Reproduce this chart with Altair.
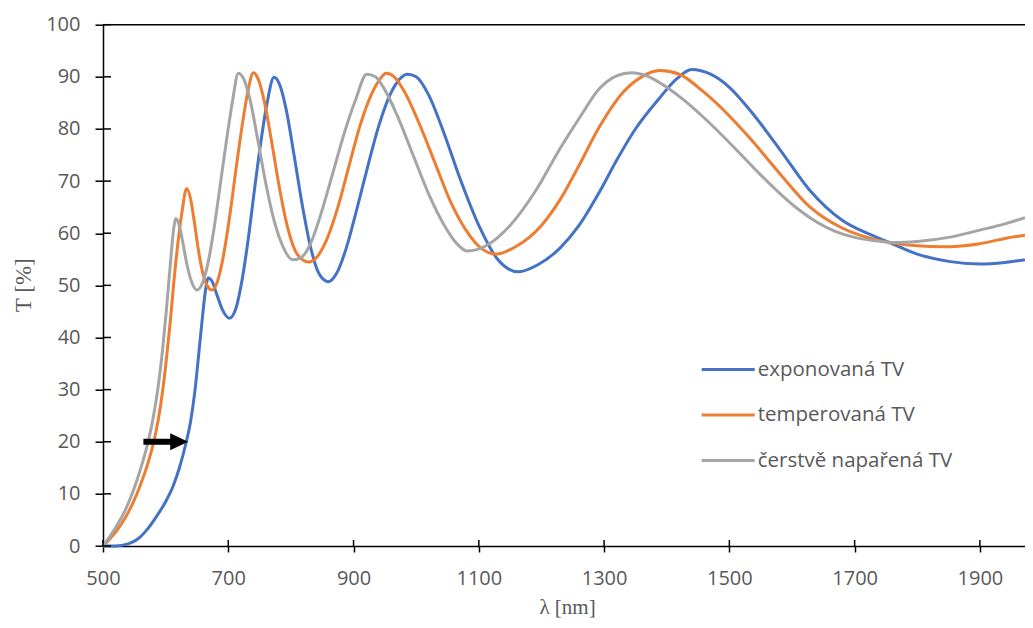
import altair as alt
import pandas as pd

# ---- data ----
series_names = ["exponovaná TV", "temperovaná TV", "čerstvě napařená TV"]
series_colors = ["#4472C4", "#ED7D31", "#A5A5A5"]

wl_exp = [500, 520, 540, 555, 570, 585, 600, 612, 622, 633, 640, 647, 653, 658, 663, 668, 674, 681, 690, 702,
          712, 722, 732, 742, 752, 762, 773, 782, 792, 805, 818, 832, 846, 860, 873, 888, 905, 922, 940, 958,
          973, 986, 1000, 1020, 1045, 1070, 1100, 1130, 1163, 1195, 1230, 1260, 1293, 1320, 1350, 1389, 1415,
          1440, 1470, 1500, 1533, 1581, 1628, 1680, 1720, 1756, 1800, 1850, 1900, 1940, 1972]
t_exp = [0, 0, 0.4, 1.3, 3.1, 5.6, 8.5, 11.5, 15, 20, 24, 30, 37, 43, 48.5, 51.4, 50.8, 48.5, 45.5, 43.7,
         45.5, 51, 59, 68.5, 77.5, 85, 89.9, 88.5, 84, 75, 65.5, 57, 52, 50.7, 52.3, 57, 64.5, 72.5, 80.5, 86.5,
         89.5, 90.5, 90, 86.5, 79, 70.5, 61.5, 55, 52.6, 54, 57.2, 61.5, 68, 74, 80, 86, 89.5,
         91.4, 90.5, 88, 83.6, 76, 68.3, 62.5, 60, 58.2, 56, 54.6, 54.1, 54.4, 54.9]

wl_temp = [500, 512, 524, 536, 548, 560, 572, 583, 592, 600, 607, 613, 619, 626, 633.6, 640, 646, 652, 660, 667,
           674, 682, 692, 702, 712, 722, 731, 740, 748, 758, 770, 782, 795, 810, 828, 842, 858, 875, 893, 910,
           928, 942, 952, 965, 982, 1005, 1030, 1055, 1080, 1105, 1128, 1160, 1200, 1230, 1260, 1293, 1330,
           1360, 1389, 1420, 1460, 1500, 1533, 1580, 1628, 1680, 1720, 1756, 1800, 1841, 1900, 1940, 1972]
t_temp = [0, 1.5, 3.3, 5.5, 8.3, 11.8, 16, 21, 27, 34.5, 42.5, 50.5, 57.5, 64, 68.6, 66.5, 62, 57, 52, 49.8,
          49.1, 50.5, 55.5, 63, 72, 80.5, 87, 90.8, 89.5, 85, 77, 68.5, 61, 56, 54.5, 55.5, 59, 65, 73, 80.5,
          86.5, 89.5, 90.7, 90, 87, 81, 73.5, 66, 60.5, 57, 56, 57.5, 61.5, 66.5, 73, 80.5, 87,
          90, 91.2, 90.5, 87, 82.5, 78.2, 71.5, 65.1, 61, 59.2, 58.2, 57.6, 57.4, 58, 59, 59.6]

wl_fresh = [500, 512, 524, 536, 548, 560, 571, 580, 588, 595, 601, 606, 610, 613, 616, 621, 627, 634, 642, 650,
            659, 668, 678, 688, 698, 707, 716, 725, 735, 747, 760, 773, 787, 803, 818, 833, 850, 868, 886, 903,
            921, 935, 950, 970, 995, 1020, 1045, 1065, 1081, 1110, 1150, 1190, 1230, 1260, 1293, 1320, 1344,
            1370, 1400, 1430, 1460, 1490, 1520, 1550, 1580, 1610, 1640, 1670, 1700, 1730, 1765, 1800, 1850,
            1900, 1940, 1972]
t_fresh = [0, 2, 4.3, 7, 10.5, 14.8, 19.5, 24.5, 30.5, 37.5, 45, 52, 57.5, 61, 62.8, 61.8, 58.5, 54, 50.5, 49.1,
           50.5, 54.5, 61.5, 70, 78.5, 85.5, 90.7, 89.5, 85.5, 78, 69.5, 62.5, 57.5, 54.9, 55.5, 58.5, 64.5, 72, 79.5,
           85.5, 90.5, 90, 87.5, 82.5, 75, 67.5, 61.5, 58, 56.6, 57.5, 61.5, 68, 76.3, 82, 87.8, 90.2, 90.8,
           90.1, 88, 85.3, 82.1, 78.6, 74.9, 71.2, 67.7, 64.6, 62.1, 60.3, 59.2, 58.6, 58.2, 58.4, 59.2,
           60.6, 61.8, 63]

x_ticks = [500, 700, 900, 1100, 1300, 1500, 1700, 1900]
y_ticks = [0, 10, 20, 30, 40, 50, 60, 70, 80, 90, 100]
x_domain = [500, 1972]
y_domain = [0, 100]

# arrow annotation (at T = 20 %)
arrow_shaft_x = [564.5, 615]
arrow_head_x = [621.6]
arrow_y = [20]

# ---- build tables ----
rows = []
for name, xs, ys in zip(series_names, [wl_exp, wl_temp, wl_fresh], [t_exp, t_temp, t_fresh]):
    for a, b in zip(xs, ys):
        rows.append({"x": a, "y": b, "série": name})
df = pd.DataFrame(rows)

W, H = 922, 521.3
GRAY = "#595959"
LABEL_FONT = "Open Sans"
TITLE_FONT = "Liberation Serif"

X = alt.X("x:Q", scale=alt.Scale(domain=x_domain, nice=False, zero=False),
          axis=alt.Axis(values=x_ticks, format="d", title="λ [nm]", grid=False, tickSize=6, tickWidth=1.5,
                        tickColor="#000000", domainColor="#000000", domainWidth=1.5,
                        labelFont=LABEL_FONT, labelFontSize=20, labelColor=GRAY, labelPadding=16.5,
                        labelFlush=False, labelOverlap=False,
                        titleFont=TITLE_FONT, titleFontSize=21, titleFontWeight="normal", titleColor=GRAY,
                        titleX=464, titleY=67, titleBaseline="alphabetic", titleAlign="center"))
Y = alt.Y("y:Q", scale=alt.Scale(domain=y_domain, nice=False, zero=True),
          axis=alt.Axis(values=y_ticks, format="d", title="T [%]", grid=False, tickSize=8, tickWidth=1.5,
                        tickColor="#000000", domainColor="#000000", domainWidth=1.5,
                        labelFont=LABEL_FONT, labelFontSize=20, labelColor=GRAY, labelPadding=15,
                        labelFlush=False, labelOverlap=False,
                        titleFont=TITLE_FONT, titleFontSize=23, titleFontWeight="normal", titleColor=GRAY,
                        titleX=-80, titleY=260, titleBaseline="middle", titleAlign="center", titleAngle=270))

lines = alt.Chart(df).mark_line(strokeWidth=3, interpolate="monotone").encode(
    x=X, y=Y,
    color=alt.Color("série:N",
                    scale=alt.Scale(domain=series_names, range=series_colors),
                    sort=series_names,
                    legend=alt.Legend(orient="none", legendX=597.2, legendY=316.9, title=None,
                                      symbolType="stroke", symbolSize=2809, symbolStrokeWidth=3,
                                      labelFont=LABEL_FONT, labelFontSize=20.5, labelColor=GRAY,
                                      labelOffset=1.5, rowPadding=6.5, padding=0, labelLimit=400)),
    detail="série:N",
)

top_line = alt.Chart(pd.DataFrame({"y": [100]})).mark_rule(color="#000000", strokeWidth=1.5).encode(
    y=Y, x=alt.value(0), x2=alt.value(W))

y_inner = alt.Chart(pd.DataFrame({"y": y_ticks})).mark_rule(color="#000000", strokeWidth=1.5).encode(
    y=Y, x=alt.value(0), x2=alt.value(8))
x_inner = alt.Chart(pd.DataFrame({"x": x_ticks})).mark_rule(color="#000000", strokeWidth=1.5).encode(
    x=X, y=alt.value(H - 6), y2=alt.value(H))

shaft = alt.Chart(pd.DataFrame({"x": [arrow_shaft_x[0]], "x2": [arrow_shaft_x[1]], "y": arrow_y})).mark_rule(
    color="#000000", strokeWidth=6).encode(x=X, x2="x2:Q", y=Y)
head = alt.Chart(pd.DataFrame({"x": arrow_head_x, "y": arrow_y})).mark_point(
    shape="M-1,-0.95L1,0L-1,0.95Z", filled=True, color="#000000", size=324, opacity=1).encode(x=X, y=Y)

chart = alt.layer(lines, top_line, y_inner, x_inner, shaft, head).properties(
    width=W, height=H,
    padding={"left": 95, "top": 16.7, "right": 0, "bottom": 74},
    autosize=alt.AutoSizeParams(type="none"),
    background="white",
).configure_view(stroke=None)

chart.save("out.html", embed_options={"renderer": "svg", "actions": False})
